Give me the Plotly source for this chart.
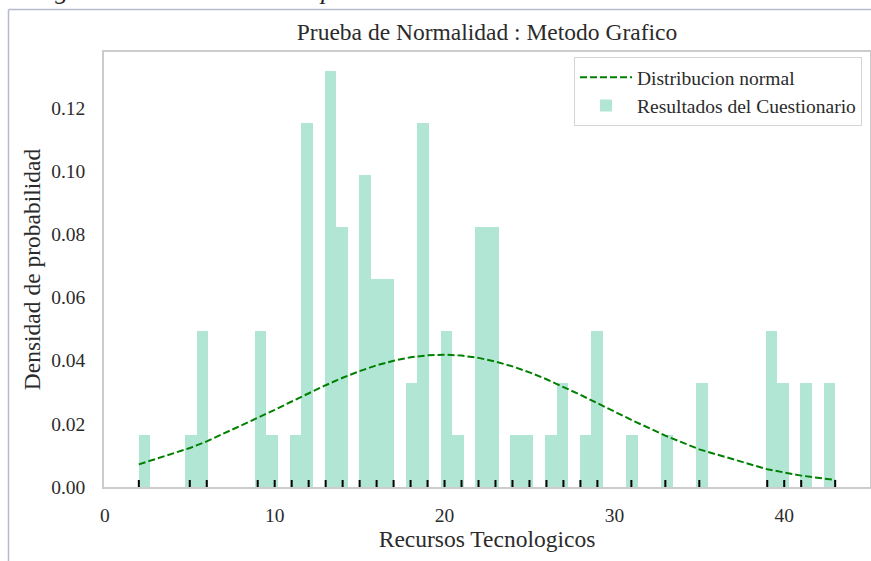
"""
Histograma con curva normal - Recursos Tecnologicos.
"""

import numpy as np
import plotly.graph_objects as go

# Puntajes observados y frecuencia de cada puntaje (n = 89)
puntajes = [2, 5, 6, 9, 10, 11, 12, 13, 14, 15, 16, 17, 18, 19, 20, 21,
            22, 23, 24, 25, 26, 27, 28, 29, 31, 33, 35, 39, 40, 41, 43]
frecuencias = [1, 1, 3, 3, 1, 1, 7, 8, 5, 6, 4, 4, 2, 7, 3, 1,
               5, 5, 1, 1, 1, 2, 1, 3, 1, 1, 2, 3, 2, 2, 2]
n_bins = 60
y_ticks = [0.00, 0.02, 0.04, 0.06, 0.08, 0.10, 0.12]
x_ticks = [0, 10, 20, 30, 40]

W, H = 871, 561
L, R, T, B = 104, 1, 52, 74
PW, PH = W - L - R, H - T - B


def px(x):
    return (x - L) / PW


def py(y):
    return 1 - (y - T) / PH


FONT = "Liberation Serif, Times New Roman, serif"
TXT = "#2b2b2b"

datos = np.repeat(puntajes, frecuencias).astype(float)
dens, edges = np.histogram(datos, bins=n_bins, density=True)
centers = (edges[:-1] + edges[1:]) / 2
ancho = edges[1] - edges[0]

mu, sd = datos.mean(), datos.std()
xs = np.sort(datos)
pdf = np.exp(-0.5 * ((xs - mu) / sd) ** 2) / (sd * np.sqrt(2 * np.pi))

fig = go.Figure()

fig.add_trace(go.Bar(
    x=centers,
    y=dens,
    width=ancho,
    name="Resultados del Cuestionario",
    marker=dict(color="rgba(102,205,170,0.5)", line=dict(width=0)),
    legendrank=2,
))

fig.add_trace(go.Scatter(
    x=xs,
    y=pdf,
    mode="lines",
    name="Distribucion normal",
    line=dict(color="#008000", width=2, dash="7px,3px"),
    legendrank=1,
))

# Rug de observaciones
fig.add_trace(go.Scatter(
    x=puntajes,
    y=[0] * len(puntajes),
    mode="markers",
    marker=dict(symbol="line-ns", size=10, line=dict(color="black", width=2)),
    cliponaxis=True,
    showlegend=False,
    hoverinfo="x",
))

# Marco de la imagen del documento
shapes = [
    dict(type="line", xref="paper", yref="paper",
         x0=px(8.5), x1=px(W + 5), y0=py(9.5), y1=py(9.5),
         line=dict(color="#b4bccc", width=1.5)),
    dict(type="line", xref="paper", yref="paper",
         x0=px(8.5), x1=px(8.5), y0=py(9.5), y1=py(H + 5),
         line=dict(color="#b4bccc", width=1.5)),
]

fig.add_annotation(
    text="<i>Histograma con curva normal para la variable 01</i>",
    xref="paper", yref="paper",
    x=px(-4), y=py(7),
    xanchor="left", yanchor="bottom",
    showarrow=False,
    font=dict(family=FONT, size=26, color="#222222"),
)

axis_common = dict(
    showgrid=False,
    zeroline=False,
    showline=True,
    linecolor="#cccccc",
    linewidth=1.5,
    mirror=True,
    ticks="",
    tickfont=dict(family=FONT, size=19.5, color=TXT),
)

fig.update_layout(
    width=W,
    height=H,
    margin=dict(l=L, r=R, t=T, b=B, autoexpand=False),
    paper_bgcolor="white",
    plot_bgcolor="white",
    font=dict(family=FONT, color=TXT),
    bargap=0,
    shapes=shapes,
    title=dict(
        text="Prueba de Normalidad : Metodo Grafico",
        x=0.5, xref="paper",
        y=1 - 32 / H, yref="container", yanchor="middle",
        font=dict(family=FONT, size=23.5, color=TXT),
    ),
    xaxis=dict(
        axis_common,
        range=[-0.05, 45.05],
        tickvals=x_ticks,
        ticklabelstandoff=10,
        title=dict(text="Recursos Tecnologicos", standoff=4,
                   font=dict(family=FONT, size=23.5, color=TXT)),
    ),
    yaxis=dict(
        axis_common,
        range=[0, 0.1377],
        tickvals=y_ticks,
        tickformat=".2f",
        ticklabelstandoff=13,
        title=dict(text="Densidad de probabilidad", standoff=4,
                   font=dict(family=FONT, size=23.5, color=TXT)),
    ),
    legend=dict(
        x=px(862), y=py(57),
        xanchor="right", yanchor="top",
        bgcolor="white",
        bordercolor="#d6d6d6",
        borderwidth=1,
        font=dict(family=FONT, size=19.5, color=TXT),
        itemwidth=52,
    ),
    showlegend=True,
)

# La pagina no debe desplazar la figura
fig.write_html(
    "out.html",
    config={"displayModeBar": False},
    post_script="document.body.style.margin='0';",
)
